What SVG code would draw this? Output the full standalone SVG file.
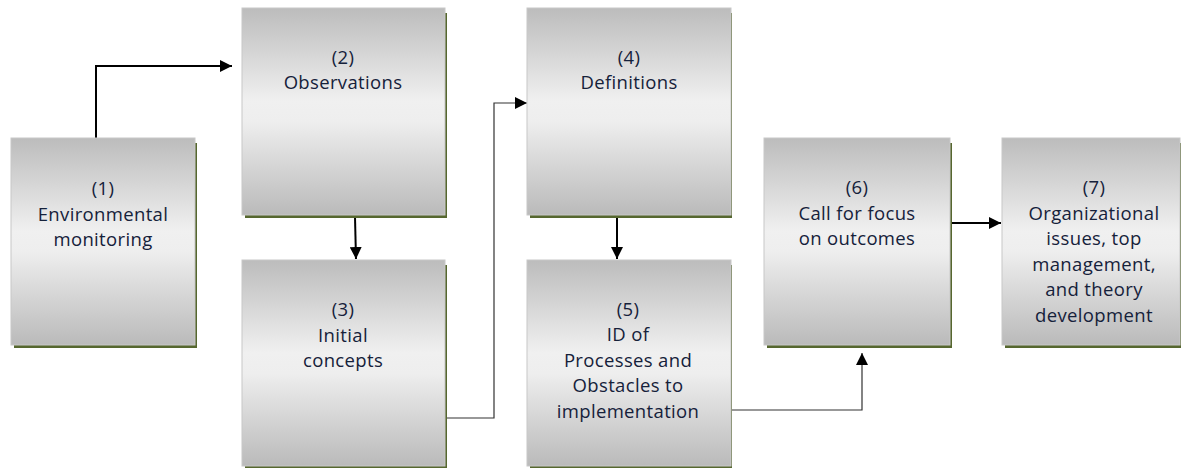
<svg xmlns="http://www.w3.org/2000/svg" width="1181" height="468" viewBox="0 0 1181 468">
  <defs>
    <linearGradient id="boxFill" x1="0" y1="0" x2="0" y2="1">
      <stop offset="0" stop-color="#bcbcbc"/>
      <stop offset="0.45" stop-color="#f0f0f0"/>
      <stop offset="0.55" stop-color="#eeeeee"/>
      <stop offset="1" stop-color="#bababa"/>
    </linearGradient>
    <marker id="arrowLg" viewBox="0 0 10 10" refX="10" refY="5" markerWidth="12" markerHeight="12" markerUnits="userSpaceOnUse" orient="auto">
      <path d="M0,0 L10,5 L0,10 z" fill="#000"/>
    </marker>
  </defs>
  <style>
    .shadow { fill: #56672f; }
    .box { fill: url(#boxFill); stroke: #c8c8c8; stroke-width: 1; }
    .label { font-family: "Open Sans", "Liberation Sans", sans-serif; font-size: 18.5px; letter-spacing: 0.35px; fill: #15213a; text-anchor: middle; }
    .thick { fill: none; stroke: #000; stroke-width: 2; }
    .thin { fill: none; stroke: #333; stroke-width: 1.2; }
  </style>
  <rect width="1181" height="468" fill="#fff"/>

  <!-- flow arrows between the seven stages -->
  <g id="connectors">
    <path class="thick" d="M96,138 V66 H232" marker-end="url(#arrowLg)"/>
    <path class="thick" d="M355,217 L356,259" marker-end="url(#arrowLg)"/>
    <path class="thin" d="M444,418 H494 V103 H527" marker-end="url(#arrowLg)"/>
    <path class="thick" d="M617,217 V259" marker-end="url(#arrowLg)"/>
    <path class="thin" d="M732,410 H862 V353" marker-end="url(#arrowLg)"/>
    <path class="thick" d="M948,223 H1001" marker-end="url(#arrowLg)"/>
  </g>

  <g id="node1">
    <rect class="shadow" x="14" y="143" width="183" height="205"/>
    <rect class="box" x="11" y="138" width="184" height="207"/>
    <text class="label" x="103" y="195">(1)</text>
    <text class="label" x="103" y="220.5">Environmental</text>
    <text class="label" x="103" y="246">monitoring</text>
  </g>

  <g id="node2">
    <rect class="shadow" x="245" y="13" width="202" height="205"/>
    <rect class="box" x="242" y="8" width="203" height="207"/>
    <text class="label" x="343" y="63.5">(2)</text>
    <text class="label" x="343" y="89">Observations</text>
  </g>

  <g id="node3">
    <rect class="shadow" x="245" y="265" width="202" height="205"/>
    <rect class="box" x="242" y="260" width="203" height="206"/>
    <text class="label" x="343" y="316">(3)</text>
    <text class="label" x="343" y="341.5">Initial</text>
    <text class="label" x="343" y="367">concepts</text>
  </g>

  <g id="node4">
    <rect class="shadow" x="530" y="13" width="202" height="205"/>
    <rect class="box" x="527" y="8" width="204" height="207"/>
    <text class="label" x="629" y="63.5">(4)</text>
    <text class="label" x="629" y="89">Definitions</text>
  </g>

  <g id="node5">
    <rect class="shadow" x="530" y="265" width="202" height="205"/>
    <rect class="box" x="527" y="260" width="204" height="206"/>
    <text class="label" x="628" y="315.5">(5)</text>
    <text class="label" x="628" y="341">ID of</text>
    <text class="label" x="628" y="366.5">Processes and</text>
    <text class="label" x="628" y="392">Obstacles to</text>
    <text class="label" x="628" y="417.5">implementation</text>
  </g>

  <g id="node6">
    <rect class="shadow" x="767" y="143" width="185" height="205"/>
    <rect class="box" x="764" y="138" width="186" height="207"/>
    <text class="label" x="857" y="194">(6)</text>
    <text class="label" x="857" y="219.5">Call for focus</text>
    <text class="label" x="857" y="245">on outcomes</text>
  </g>

  <g id="node7">
    <rect class="shadow" x="1005" y="143" width="178" height="205"/>
    <rect class="box" x="1002" y="138" width="178" height="207"/>
    <text class="label" x="1094" y="194">(7)</text>
    <text class="label" x="1094" y="219.5">Organizational</text>
    <text class="label" x="1094" y="245">issues, top</text>
    <text class="label" x="1094" y="270.5">management,</text>
    <text class="label" x="1094" y="296">and theory</text>
    <text class="label" x="1094" y="321.5">development</text>
  </g>
</svg>
